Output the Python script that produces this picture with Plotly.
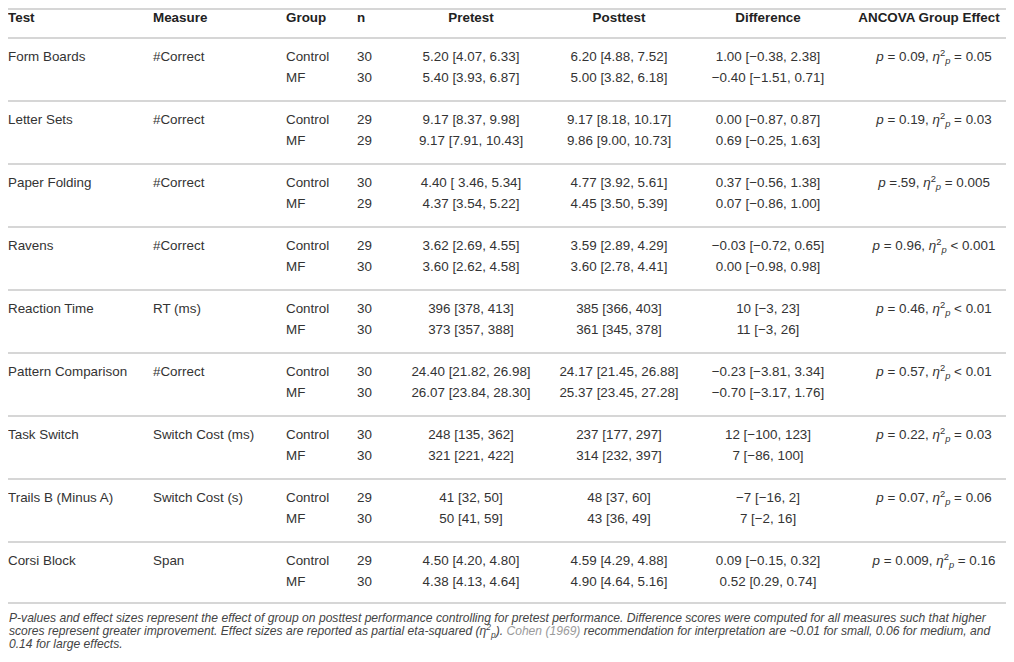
import plotly.graph_objects as go

# table contents, one entry per test
tests = ["Form Boards", "Letter Sets", "Paper Folding", "Ravens", "Reaction Time",
         "Pattern Comparison", "Task Switch", "Trails B (Minus A)", "Corsi Block"]
measures = ["#Correct", "#Correct", "#Correct", "#Correct", "RT (ms)",
            "#Correct", "Switch Cost (ms)", "Switch Cost (s)", "Span"]
n_control = [30, 29, 30, 29, 30, 30, 30, 29, 29]
n_mf = [30, 29, 29, 30, 30, 30, 30, 30, 30]
pre_control = ["5.20 [4.07, 6.33]", "9.17 [8.37, 9.98]", "4.40 [ 3.46, 5.34]", "3.62 [2.69, 4.55]",
               "396 [378, 413]", "24.40 [21.82, 26.98]", "248 [135, 362]", "41 [32, 50]", "4.50 [4.20, 4.80]"]
pre_mf = ["5.40 [3.93, 6.87]", "9.17 [7.91, 10.43]", "4.37 [3.54, 5.22]", "3.60 [2.62, 4.58]",
          "373 [357, 388]", "26.07 [23.84, 28.30]", "321 [221, 422]", "50 [41, 59]", "4.38 [4.13, 4.64]"]
post_control = ["6.20 [4.88, 7.52]", "9.17 [8.18, 10.17]", "4.77 [3.92, 5.61]", "3.59 [2.89, 4.29]",
                "385 [366, 403]", "24.17 [21.45, 26.88]", "237 [177, 297]", "48 [37, 60]", "4.59 [4.29, 4.88]"]
post_mf = ["5.00 [3.82, 6.18]", "9.86 [9.00, 10.73]", "4.45 [3.50, 5.39]", "3.60 [2.78, 4.41]",
           "361 [345, 378]", "25.37 [23.45, 27.28]", "314 [232, 397]", "43 [36, 49]", "4.90 [4.64, 5.16]"]
diff_control = ["1.00 [−0.38, 2.38]", "0.00 [−0.87, 0.87]", "0.37 [−0.56, 1.38]", "−0.03 [−0.72, 0.65]",
                "10 [−3, 23]", "−0.23 [−3.81, 3.34]", "12 [−100, 123]", "−7 [−16, 2]", "0.09 [−0.15, 0.32]"]
diff_mf = ["−0.40 [−1.51, 0.71]", "0.69 [−0.25, 1.63]", "0.07 [−0.86, 1.00]", "0.00 [−0.98, 0.98]",
           "11 [−3, 26]", "−0.70 [−3.17, 1.76]", "7 [−86, 100]", "7 [−2, 16]", "0.52 [0.29, 0.74]"]
p_values = ["= 0.09", "= 0.19", "=.59", "= 0.96", "= 0.46", "= 0.57", "= 0.22", "= 0.07", "= 0.009"]
eta_values = ["= 0.05", "= 0.03", "= 0.005", "< 0.001", "< 0.01", "< 0.01", "= 0.03", "= 0.06", "= 0.16"]
headers = ["Test", "Measure", "Group", "n", "Pretest", "Posttest", "Difference", "ANCOVA Group Effect"]

FONT = "Liberation Sans, Arial, sans-serif"
TXT = "#333333"
RULE = "#c9c9c9"

# the page has an 8px body margin, so the figure is made smaller and
# the axes are set up so that one unit is one pixel of the page
OFF = 8
W, H = 1014, 662
BOTTOM = 654

# layout of the table in pixel units
col_x = [8, 153, 286, 357, 471, 619, 768, 934]
head_x = [8, 153, 286, 357, 471, 619, 768, 929]
left_cols = [True, True, True, True, False, False, False, False]
header_y = 19
first_row = 58
sub_gap = 21
group_step = 63

row_y = []
for g in range(len(tests)):
    row_y.append(first_row + g * group_step)
    row_y.append(first_row + g * group_step + sub_gap)

columns = []
col = []
for t in tests:
    col += [t, ""]
columns.append(col)
col = []
for m in measures:
    col += [m, ""]
columns.append(col)
columns.append(["Control", "MF"] * len(tests))
col = []
for a, b in zip(n_control, n_mf):
    col += [str(a), str(b)]
columns.append(col)
for c_list, m_list in [(pre_control, pre_mf), (post_control, post_mf), (diff_control, diff_mf)]:
    col = []
    for a, b in zip(c_list, m_list):
        col += [a, b]
    columns.append(col)
col = []
for p, e in zip(p_values, eta_values):
    col.append("<i>p</i> " + p + ", <i>η</i><sup>2</sup><sub><i>p</i></sub> " + e)
    col.append("")
columns.append(col)

fig = go.Figure()

# header row
for i, h in enumerate(headers):
    fig.add_trace(go.Scatter(
        x=[head_x[i]], y=[header_y], mode="text", text=["<b>" + h + "</b>"],
        textposition="middle right" if left_cols[i] else "middle center",
        textfont=dict(family=FONT, size=13.4, color="#222222"),
        cliponaxis=False, hoverinfo="skip", showlegend=False))

# body
for i, col in enumerate(columns):
    fig.add_trace(go.Scatter(
        x=[col_x[i]] * len(col), y=row_y, mode="text", text=col,
        textposition="middle right" if left_cols[i] else "middle center",
        textfont=dict(family=FONT, size=13.4, color=TXT),
        cliponaxis=False, hoverinfo="skip", showlegend=False))

# horizontal rules
rules = [2, 38] + [first_row + g * group_step + 43 for g in range(len(tests) - 1)] + [603]
for r in rules:
    fig.add_shape(type="line", xref="x", yref="y", x0=0, x1=W, y0=max(r, OFF + 1), y1=max(r, OFF + 1),
                  line=dict(color=RULE, width=1.6))

# footnote
notes = [
    "P-values and effect sizes represent the effect of group on posttest performance controlling for pretest performance. "
    "Difference scores were computed for all measures such that higher",
    "scores represent greater improvement. Effect sizes are reported as partial eta-squared (<i>η</i><sup>2</sup><sub><i>p</i></sub>). "
    "<span style='color:#9a9a9a'>Cohen (1969)</span> recommendation for interpretation are ~0.01 for small, 0.06 for medium, and",
    "0.14 for large effects.",
]
note_y = [618, 631, 644]
for t, y in zip(notes, note_y):
    fig.add_annotation(x=OFF, y=y, xref="x", yref="y", text="<i>" + t + "</i>", showarrow=False,
                       xanchor="left", yanchor="middle", align="left", borderpad=0,
                       font=dict(family=FONT, size=12.1, color="#444444"))

fig.update_xaxes(range=[OFF, W], visible=False, fixedrange=True)
fig.update_yaxes(range=[BOTTOM, OFF], visible=False, fixedrange=True)
fig.update_layout(width=W - OFF, height=BOTTOM - OFF, margin=dict(l=0, r=0, t=0, b=0),
                  paper_bgcolor="white", plot_bgcolor="white")

fig.write_html("out.html")
